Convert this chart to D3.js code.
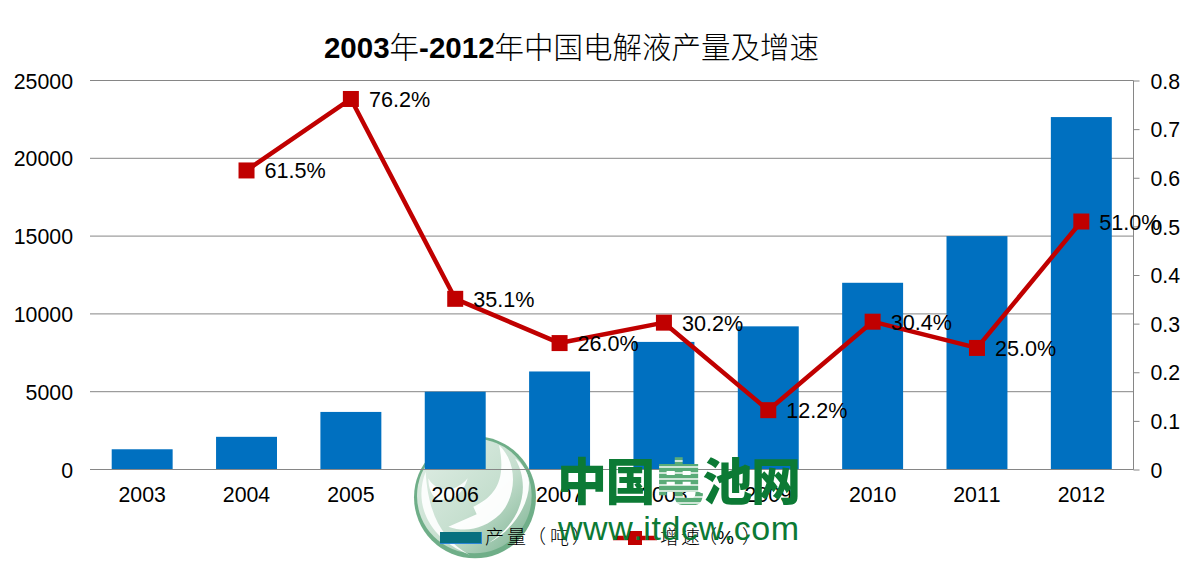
<!DOCTYPE html>
<html><head><meta charset="utf-8">
<script src="https://cdn.jsdelivr.net/npm/d3@7"></script>
<style>html,body{margin:0;padding:0;background:#fff}svg{display:block}
text{font-family:"Liberation Sans","Noto Sans CJK SC",sans-serif;fill:#000;font-kerning:none}</style></head>
<body><svg id="c" width="1195" height="569"></svg>
<script>
const years=["2003","2004","2005","2006","2007","2008","2009","2010","2011","2012"];
const output=[1300,2100,3700,5000,6300,8200,9200,12000,15000,22650];
const growth=[null,0.615,0.762,0.351,0.26,0.302,0.122,0.304,0.25,0.51];
const growthLabels=[null,"61.5%","76.2%","35.1%","26.0%","30.2%","12.2%","30.4%","25.0%","51.0%"];
const leftTicks=[0,5000,10000,15000,20000,25000];
const rightTicks=[0,0.1,0.2,0.3,0.4,0.5,0.6,0.7,0.8];
const legendNames=["产量（吨）","增速（%）"];
const titleParts=[["2003",1],["年",0],["-2012",1],["年中国电解液产量及增速",0]];
const markChars=["中","国","电","池","网"], markUrl="www.itdcw.com";

const svg=d3.select("#c");
const defs=svg.append("defs");
const L=90,R=1133.5,T=80.5,B=469.5;
const x=d3.scaleBand().domain(years).range([L,R]).paddingInner(0.416).paddingOuter(0.208);
const yL=d3.scaleLinear().domain([0,25000]).range([B,T]);
const yR=d3.scaleLinear().domain([0,0.8]).range([B,T]);
const cx=d=>x(d)+x.bandwidth()/2;
const GRID="#868686", GREEN="#0c7a35";

const tt=svg.append("text").attr("x",571.5).attr("y",58).attr("text-anchor","middle").attr("font-size",29.5);
tt.selectAll("tspan").data(titleParts).join("tspan")
  .attr("font-weight",d=>d[1]?"bold":"300").text(d=>d[0]);

// watermark logo sits behind the bars and grid
const g1=defs.append("linearGradient").attr("id","disc").attr("x1",0).attr("y1",0).attr("x2",1).attr("y2",1);
g1.append("stop").attr("offset",0).attr("stop-color","#e2efe7");
g1.append("stop").attr("offset",.55).attr("stop-color","#c6dfcf");
g1.append("stop").attr("offset",1).attr("stop-color","#78b08e");
const logo=svg.append("g").attr("transform","translate(405,425) scale(0.3333)");
logo.append("circle").attr("cx",210).attr("cy",217).attr("r",183).attr("fill","#6fae88");
logo.append("circle").attr("cx",208).attr("cy",213).attr("r",172).attr("fill","url(#disc)");
logo.append("path").attr("fill","#fff").attr("opacity",.9)
  .attr("d","M62,140 C28,225 58,335 195,390 C112,345 70,270 62,140 Z");
logo.append("path").attr("fill","#fff").attr("opacity",.95)
  .attr("d","M130,305 L215,268 L205,245 C270,215 305,165 282,60 C340,115 335,215 285,268 C240,310 185,325 130,305 Z");
logo.append("path").attr("fill","#fff").attr("opacity",.9)
  .attr("d","M188,160 C175,205 150,225 100,225 C80,215 70,190 70,160 C95,205 150,205 188,160 Z");
logo.append("path").attr("fill","#fff").attr("opacity",.95)
  .attr("d","M330,100 C375,175 360,285 250,355 C320,320 375,240 372,170 C370,140 350,115 330,100 Z");

svg.append("g").selectAll("line").data(leftTicks).join("line")
  .attr("x1",L).attr("x2",R).attr("y1",d=>yL(d)).attr("y2",d=>yL(d)).attr("stroke",GRID);

svg.append("g").selectAll("rect").data(years).join("rect")
  .attr("x",d=>x(d)).attr("width",x.bandwidth())
  .attr("y",(d,i)=>yL(output[i])).attr("height",(d,i)=>B-.5-yL(output[i])).attr("fill","#0070c0");

svg.append("line").attr("x1",L).attr("x2",R).attr("y1",B).attr("y2",B).attr("stroke",GRID);

const gl=svg.append("g").attr("transform",`translate(${L},0)`)
  .call(d3.axisLeft(yL).tickValues(leftTicks).tickSize(0).tickPadding(17).tickFormat(d3.format("d")));
gl.select(".domain").remove();
gl.selectAll("text").attr("font-size",21.3).attr("dy","0.36em");

const gr=svg.append("g").attr("transform",`translate(${R},0)`)
  .call(d3.axisRight(yR).tickValues(rightTicks).tickSize(6).tickPadding(11).tickFormat(d=>d===0?"0":d3.format(".1f")(d)));
gr.select(".domain").attr("stroke",GRID).attr("d",`M0,${T}V${B}`);
gr.selectAll("line").attr("stroke",GRID);
gr.selectAll("text").attr("font-size",21.3).attr("dy","0.36em");

svg.append("g").selectAll("text").data(years).join("text")
  .attr("x",cx).attr("y",502).attr("text-anchor","middle").attr("font-size",21.3).text(d=>d);

const line=d3.line().defined((d,i)=>growth[i]!==null).x((d,i)=>cx(years[i])).y((d,i)=>yR(growth[i]));
svg.append("path").attr("d",line(years)).attr("fill","none").attr("stroke","#c00000").attr("stroke-width",4.5).attr("stroke-linejoin","round");
const pts=years.map((y,i)=>({y,v:growth[i],l:growthLabels[i]})).filter(d=>d.v!==null);
svg.append("g").selectAll("rect").data(pts).join("rect")
  .attr("x",d=>cx(d.y)-8).attr("y",d=>yR(d.v)-8).attr("width",16).attr("height",16).attr("fill","#c00000");
svg.append("g").selectAll("text").data(pts).join("text")
  .attr("x",d=>cx(d.y)+18).attr("y",d=>yR(d.v)+8).attr("font-size",21.6).text(d=>d.l);

// watermark words
const pat=defs.append("pattern").attr("id","stripes").attr("patternUnits","userSpaceOnUse").attr("width",8).attr("height",6);
pat.append("rect").attr("width",8).attr("height",4).attr("fill","#5aab78");
pat.append("rect").attr("y",4).attr("width",8).attr("height",2).attr("fill","#cfe6d7");
svg.append("g").selectAll("text").data(markChars).join("text")
  .attr("x",(d,i)=>582+i*48.5).attr("y",500).attr("text-anchor","middle").attr("font-size",50).attr("font-weight","900")
  .style("fill",d=>d==="电"?"url(#stripes)":GREEN).text(d=>d);

// legend
svg.append("rect").attr("x",440).attr("y",532).attr("width",42).attr("height",12).attr("fill","#2a86d8");
svg.append("rect").attr("x",440).attr("y",532).attr("width",41).attr("height",11).attr("fill","#07707f");
svg.append("text").attr("x",[485,507,527,550,572].join(" ")).attr("y",544).attr("font-size",19).attr("font-weight",300).text(legendNames[0]);
svg.append("line").attr("x1",613).attr("x2",657).attr("y1",538).attr("y2",538).attr("stroke","#c00000").attr("stroke-width",4.5);
svg.append("rect").attr("x",628).attr("y",531).attr("width",14).attr("height",14).attr("fill","#c00000");
svg.append("text").attr("x",[660,681,698,717,742].join(" ")).attr("y",544).attr("font-size",19).attr("font-weight",300).text(legendNames[1]);

svg.append("text").attr("x",558).attr("y",540).attr("font-size",34).attr("textLength",241).attr("lengthAdjust","spacing")
  .style("fill",GREEN).text(markUrl);
</script></body></html>
